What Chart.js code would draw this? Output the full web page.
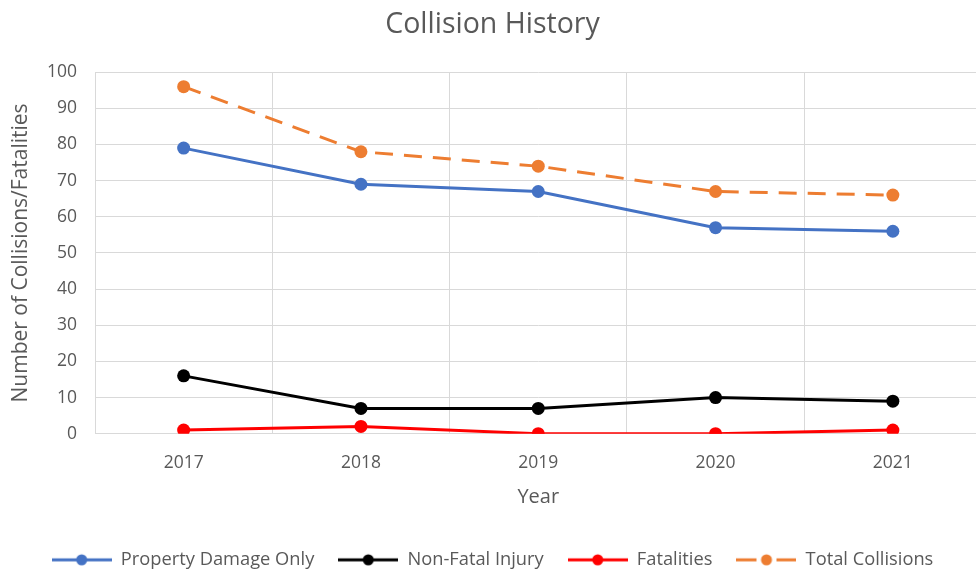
<!DOCTYPE html>
<html>
<head>
<meta charset="utf-8">
<script src="https://cdn.jsdelivr.net/npm/chart.js@4"></script>
<style>
  html, body { margin: 0; padding: 0; background: #fff; overflow: hidden; }
  #wrap { width: 976px; height: 571px; overflow: hidden; }
</style>
</head>
<body>
<div id="wrap"><canvas id="myChart" width="988" height="571"></canvas></div>
<script>
// 차트 데이터
const years = ['2017', '2018', '2019', '2020', '2021'];
const propertyDamage = [79, 69, 67, 57, 56];
const nonFatalInjury = [16, 7, 7, 10, 9];
const fatalities = [1, 2, 0, 0, 1];
const totalCollisions = [96, 78, 74, 67, 66];

const seriesNames = ['Property Damage Only', 'Non-Fatal Injury', 'Fatalities', 'Total Collisions'];
const seriesColors = ['#4472C4', '#000000', '#FF0000', '#ED7D31'];

const FONT = "'Open Sans', sans-serif";
const GRAY = '#595959';

// 범례 아이콘 (선 + 점)
function makeIcon(color, dashed) {
    const c = document.createElement('canvas');
    c.width = 60;
    c.height = 14;
    const g = c.getContext('2d');
    g.strokeStyle = color;
    g.fillStyle = color;
    g.lineWidth = 3;
    g.beginPath();
    if (dashed) {
        g.moveTo(0, 7); g.lineTo(20, 7);
        g.moveTo(40, 7); g.lineTo(60, 7);
    } else {
        g.moveTo(0, 7); g.lineTo(60, 7);
    }
    g.stroke();
    g.beginPath();
    g.arc(30, 7, 5.5, 0, Math.PI * 2);
    g.fill();
    return c;
}
const legendIcons = seriesColors.map((col, i) => makeIcon(col, i === 3));

function ds(label, data, color, dashed) {
    return {
        label: label,
        data: data,
        borderColor: color,
        backgroundColor: color,
        borderWidth: 3,
        borderDash: dashed ? [18, 11] : [],
        pointRadius: 6.5,
        pointHoverRadius: 6.5,
        pointBackgroundColor: color,
        pointBorderWidth: 0,
        tension: 0
    };
}

const ctx = document.getElementById('myChart').getContext('2d');
new Chart(ctx, {
    type: 'line',
    data: {
        labels: years,
        datasets: [
            ds(seriesNames[0], propertyDamage, seriesColors[0], false),
            ds(seriesNames[1], nonFatalInjury, seriesColors[1], false),
            ds(seriesNames[2], fatalities, seriesColors[2], false),
            ds(seriesNames[3], totalCollisions, seriesColors[3], true)
        ]
    },
    options: {
        responsive: false,
        animation: false,
        layout: { padding: { left: 0, right: 3, top: 4, bottom: -8 } },
        scales: {
            x: {
                offset: true,
                grid: { offset: true, color: '#D9D9D9', drawTicks: false },
                border: { color: '#D9D9D9' },
                ticks: { color: GRAY, font: { family: FONT, size: 17.5 }, padding: 19 },
                title: { display: true, text: 'Year', color: GRAY, font: { family: FONT, size: 20 }, padding: { top: -7, bottom: 17 } }
            },
            y: {
                min: 0,
                max: 100,
                afterFit(scale) { scale.width = 95; },
                ticks: { stepSize: 10, color: GRAY, font: { family: FONT, size: 17.5 }, padding: 18 },
                grid: { color: '#D9D9D9', drawTicks: false },
                border: { color: '#D9D9D9' },
                title: { display: true, text: 'Number of Collisions/Fatalities', color: GRAY, font: { family: FONT, size: 21 }, padding: { top: 8, bottom: 4 } }
            }
        },
        plugins: {
            title: {
                display: true,
                text: 'Collision History',
                color: GRAY,
                font: { family: FONT, size: 28.5, weight: 'normal' },
                padding: { top: 4, bottom: 30 }
            },
            legend: {
                position: 'bottom',
                labels: {
                    usePointStyle: true,
                    pointStyleWidth: 60,
                    color: GRAY,
                    font: { family: FONT, size: 18.3 },
                    padding: 24,
                    generateLabels(chart) {
                        const items = Chart.defaults.plugins.legend.labels.generateLabels(chart);
                        items.forEach((it, i) => { it.pointStyle = legendIcons[i]; });
                        return items;
                    }
                }
            },
            tooltip: { enabled: false }
        }
    }
});
</script>
</body>
</html>
